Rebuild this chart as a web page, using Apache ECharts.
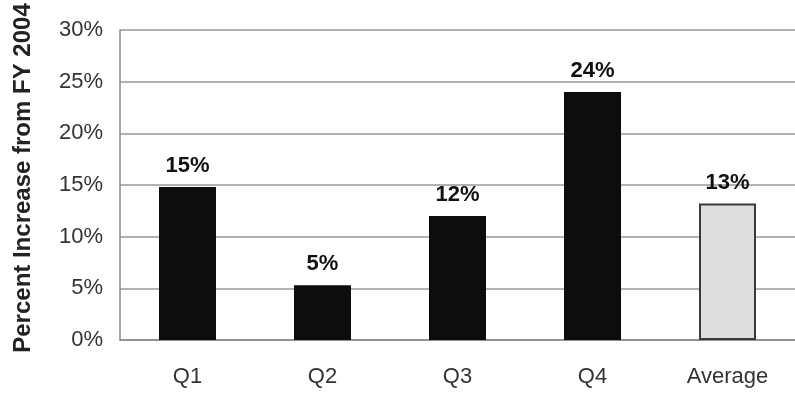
<!DOCTYPE html>
<html>
<head>
<meta charset="utf-8">
<script src="https://cdn.jsdelivr.net/npm/echarts@6/dist/echarts.min.js"></script>
<style>
html,body{margin:0;padding:0;background:#fff;}
#chart{width:795px;height:407px;}
</style>
</head>
<body>
<div id="chart"></div>
<script>
const categories = ['Q1', 'Q2', 'Q3', 'Q4', 'Average'];
const values = [14.8, 5.3, 12.0, 24.0, 13.2];
const labels = ['15%', '5%', '12%', '24%', '13%'];
const yTicks = [0, 5, 10, 15, 20, 25, 30];

const chart = echarts.init(document.getElementById('chart'));
const font = 'Liberation Sans, Arial, sans-serif';
chart.setOption({
  animation: false,
  backgroundColor: '#ffffff',
  grid: { left: 120, right: -3, top: 30, bottom: 67, containLabel: false },
  xAxis: {
    type: 'category',
    data: categories,
    axisLine: { show: true, lineStyle: { color: '#888', width: 1.5 } },
    axisTick: { show: false },
    axisLabel: { color: '#333', fontSize: 22, fontFamily: font, margin: 26 }
  },
  yAxis: {
    type: 'value',
    min: yTicks[0],
    max: yTicks[yTicks.length - 1],
    interval: 5,
    name: 'Percent Increase from FY 2004',
    nameLocation: 'middle',
    nameGap: 85,
    nameRotate: 90,
    nameTextStyle: { color: '#222', fontSize: 24, fontFamily: font, fontWeight: 'bold', padding: [0, 0, 0, 14] },
    axisLine: { show: true, lineStyle: { color: '#888', width: 1.5 } },
    axisTick: { show: false },
    axisLabel: { color: '#333', fontSize: 22, fontFamily: font, margin: 17, formatter: v => v + '%' },
    splitLine: { show: true, lineStyle: { color: '#999', width: 1.5 } }
  },
  series: [{
    type: 'bar',
    barWidth: 57,
    data: values.map((v, i) => ({
      value: v,
      itemStyle: i === 4
        ? { color: '#dedede', borderColor: '#3a3a3a', borderWidth: 2 }
        : { color: '#0d0d0d' },
      label: {
        show: true,
        position: 'top',
        distance: 10,
        formatter: () => labels[i],
        color: '#111',
        fontSize: 22,
        fontWeight: 'bold',
        fontFamily: font
      }
    }))
  }]
});
</script>
</body>
</html>
